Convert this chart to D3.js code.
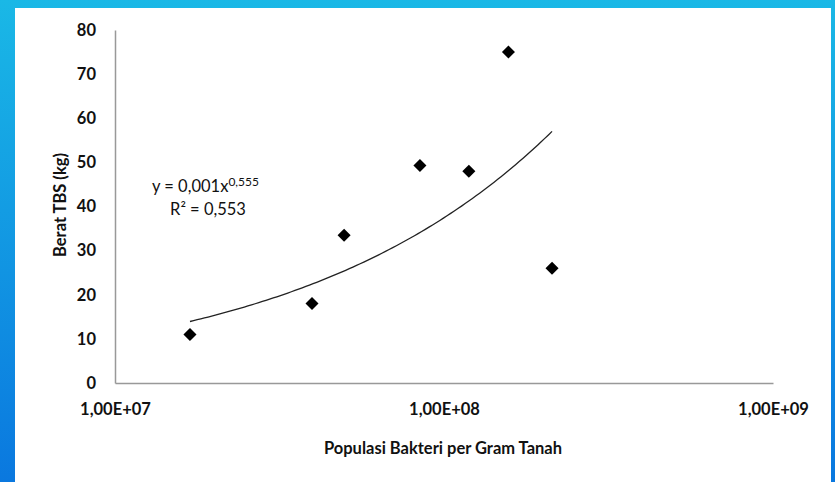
<!DOCTYPE html>
<html>
<head>
<meta charset="utf-8">
<script src="https://cdn.jsdelivr.net/npm/d3@7/dist/d3.min.js"></script>
<style>
  html, body { margin: 0; padding: 0; }
  body { width: 835px; height: 482px; overflow: hidden; }
  text { font-family: Lato, "Open Sans", "DejaVu Sans", sans-serif; fill: #111; }
</style>
</head>
<body>
<svg id="chart" width="835" height="482"></svg>
<script>
// Bacterial population per gram of soil vs. fresh fruit bunch weight
const populasi = [1.69e7, 3.97e7, 4.97e7, 8.45e7, 1.19e8, 1.57e8, 2.13e8];
const beratTBS = [11, 18, 33.5, 49.3, 48, 75, 26];
const xTicks = [1e7, 1e8, 1e9];
const xTickLabels = ["1,00E+07", "1,00E+08", "1,00E+09"];
const yTicks = [0, 10, 20, 30, 40, 50, 60, 70, 80];
const eqText = ["y = 0,001x", "0,555"];
const r2Text = "R² = 0,553";
const xTitle = "Populasi Bakteri per Gram Tanah";
const yTitle = "Berat TBS (kg)";

const svg = d3.select("#chart");

// background frame
const defs = svg.append("defs");
const grad = defs.append("linearGradient").attr("id", "bg")
  .attr("x1", 0).attr("y1", 0).attr("x2", 0).attr("y2", 1);
grad.append("stop").attr("offset", "0%").attr("stop-color", "#1ab8e6");
grad.append("stop").attr("offset", "100%").attr("stop-color", "#0a78df");
svg.append("rect").attr("width", 835).attr("height", 482).attr("fill", "url(#bg)");
svg.append("rect").attr("x", 15).attr("y", 8).attr("width", 816).attr("height", 474).attr("fill", "#fff");

const plot = { left: 115, right: 773, top: 30, bottom: 383 };
const x = d3.scaleLog().domain([1e7, 1e9]).range([plot.left, plot.right]);
const y = d3.scaleLinear().domain([0, 80]).range([plot.bottom, plot.top]);

// axes (no tick marks, grey domain lines)
const xAxis = d3.axisBottom(x).tickValues(xTicks)
  .tickFormat((d, i) => xTickLabels[i]).tickSize(0).tickPadding(20);
const gx = svg.append("g").attr("transform", `translate(0,${plot.bottom})`).call(xAxis);
gx.select(".domain").attr("stroke", "#999").attr("stroke-width", 1.5);
gx.selectAll("text").attr("font-size", 16.5).attr("font-weight", "bold")
  .style("font-family", "Lato, sans-serif").attr("fill", "#111");

const yAxis = d3.axisLeft(y).tickValues(yTicks).tickSize(0).tickPadding(19);
const gy = svg.append("g").attr("transform", `translate(${plot.left},0)`).call(yAxis);
gy.select(".domain").attr("stroke", "#999").attr("stroke-width", 1.5);
gy.selectAll("text").attr("font-size", 16.5).attr("font-weight", "bold")
  .style("font-family", "Lato, sans-serif").attr("fill", "#111");

// power trendline fitted by least squares in log-log space
const lx = populasi.map(Math.log), ly = beratTBS.map(Math.log);
const mx = d3.mean(lx), my = d3.mean(ly);
const b = d3.sum(lx, (v, i) => (v - mx) * (ly[i] - my)) / d3.sum(lx, v => (v - mx) ** 2);
const a = Math.exp(my - b * mx);
const [xmin, xmax] = d3.extent(populasi);
const trend = d3.range(0, 101).map(i => {
  const xv = Math.exp(Math.log(xmin) + (Math.log(xmax) - Math.log(xmin)) * i / 100);
  return [xv, a * Math.pow(xv, b)];
});
svg.append("path").datum(trend)
  .attr("fill", "none").attr("stroke", "#222").attr("stroke-width", 1.3)
  .attr("d", d3.line().x(d => x(d[0])).y(d => y(d[1])));

// data markers (diamonds)
svg.append("g").selectAll("path").data(populasi).join("path")
  .attr("d", d3.symbol().type(d3.symbolSquare).size(85))
  .attr("transform", (d, i) => `translate(${x(d)},${y(beratTBS[i])}) rotate(45)`)
  .attr("fill", "#000");

// equation label
const eq = svg.append("text").attr("x", 152).attr("y", 192).attr("font-size", 16.5);
eq.append("tspan").text(eqText[0]);
eq.append("tspan").attr("dy", -6).attr("font-size", 12).text(eqText[1]);
svg.append("text").attr("x", 208).attr("y", 215).attr("text-anchor", "middle")
  .attr("font-size", 16.5).text(r2Text);

// axis titles
svg.append("text").attr("x", 443).attr("y", 454).attr("text-anchor", "middle")
  .attr("font-size", 16.5).attr("font-weight", "bold").text(xTitle);
svg.append("text").attr("transform", "translate(66,205) rotate(-90)")
  .attr("text-anchor", "middle").attr("font-size", 16.5).attr("font-weight", "bold").text(yTitle);
</script>
</body>
</html>
